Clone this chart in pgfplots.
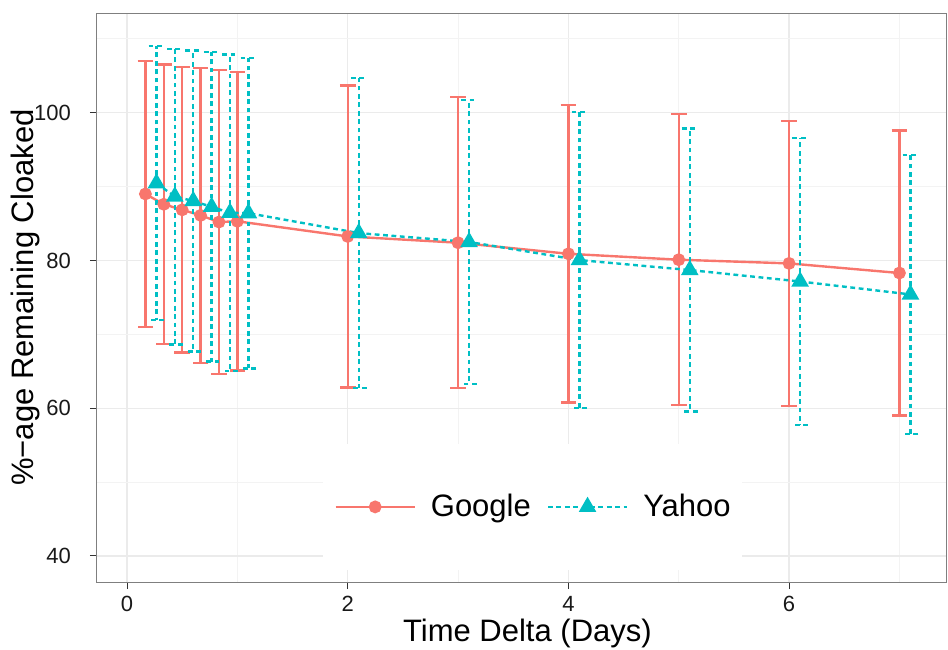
\documentclass[border=0pt]{standalone}
\usepackage{fontspec}
\setmainfont{Liberation Sans}
\usepackage{pgfplots}
\usepackage{pgfplotstable}
\pgfplotsset{compat=1.18}
\definecolor{google}{HTML}{F8766D}
\definecolor{yahoo}{HTML}{00BFC4}
\definecolor{panel}{HTML}{7F7F7F}
\definecolor{gridmaj}{HTML}{EBEBEB}

% days, mean, half-width of interval
\pgfplotstableread{
x y e
0.1667 89.0 18.0
0.3333 87.6 18.9
0.5 86.85 19.3
0.6667 86.1 19.95
0.8333 85.2 20.6
1.0 85.3 20.2
2 83.25 20.45
3 82.4 19.7
4 80.9 20.1
5 80.1 19.7
6 79.6 19.3
7 78.3 19.3
}\googledata

\pgfplotstableread{
x y e
0.2667 90.45 18.55
0.4333 88.65 20.0
0.6 88.05 20.35
0.7667 87.25 20.95
0.9333 86.45 21.45
1.1 86.4 21.0
2.1 83.7 21.0
3.1 82.5 19.2
4.1 80.05 20.05
5.1 78.7 19.15
6.1 77.15 19.45
7.1 75.4 18.9
}\yahoodata

\begin{document}
\begin{tikzpicture}
\useasboundingbox (-48.5pt,-33.5pt) rectangle (425.5pt,291pt);
\begin{axis}[
  at={(0,0)}, anchor=south west,
  scale only axis, width=424.5pt, height=284.5pt,
  xmin=-0.272, xmax=7.422, ymin=36.48, ymax=113.49,
  xtick={0,2,4,6}, minor xtick={1,3,5,7},
  ytick={40,60,80,100}, minor ytick={50,70,90,110},
  grid=both,
  major grid style={gridmaj, line width=0.6pt},
  minor grid style={gridmaj!60, line width=0.35pt},
  tick pos=left, tick align=outside,
  major tick length=3.5pt, minor tick length=0pt,
  major tick style={black!80, line width=0.5pt},
  axis line style={panel, line width=0.5pt},
  ticklabel style={font=\fontsize{11}{13}\selectfont, black!90},
  yticklabel style={xshift=-6pt},
  /pgf/number format/assume math mode=true,
  xlabel={Time Delta (Days)},
  ylabel={\%−age Remaining Cloaked},
  label style={font=\fontsize{15.5}{18}\selectfont},
  xlabel style={at={(axis description cs:0.507,-0.091)}, anchor=center},
  ylabel style={at={(axis description cs:-0.0845,0.5)}, anchor=center},
  legend style={at={(axis description cs:0.513,0.132)}, anchor=center,
    draw=none, fill=white, legend columns=-1,
    font=\fontsize{15.5}{18}\selectfont,
    inner xsep=5.5pt, inner ysep=23pt,
    nodes={inner xsep=0pt},
    /tikz/every odd column/.append style={column sep=7.5pt},
    /tikz/every even column/.append style={column sep=8pt}},
  legend image code/.code={\draw[mark repeat=2, mark phase=2, #1]
    plot coordinates {(0pt,0pt) (19.75pt,0pt) (39.5pt,0pt)};},
]
\addplot[google, line width=1.2pt, mark=*, mark size=2.6pt,
  mark options={solid, fill=google},
  error bars/.cd, y dir=both, y explicit,
  error bar style={google, line width=1.2pt, solid},
  error mark options={google, rotate=90, line width=1.2pt, mark size=3.9pt}]
  table[x=x, y=y, y error=e] {\googledata};
\addlegendentry{Google}
\addplot[yahoo, line width=1.2pt, dash pattern=on 2.4pt off 1.8pt,
  mark=triangle*, mark size=3.9pt,
  mark options={solid, fill=yahoo},
  error bars/.cd, y dir=both, y explicit,
  error bar style={yahoo, line width=1.2pt, dash pattern=on 2.4pt off 1.8pt},
  error mark options={yahoo, rotate=90, line width=1.2pt, mark size=3.9pt,
    dash pattern=on 2.4pt off 1.8pt}]
  table[x=x, y=y, y error=e] {\yahoodata};
\addlegendentry{Yahoo}
\end{axis}
\end{tikzpicture}
\end{document}
